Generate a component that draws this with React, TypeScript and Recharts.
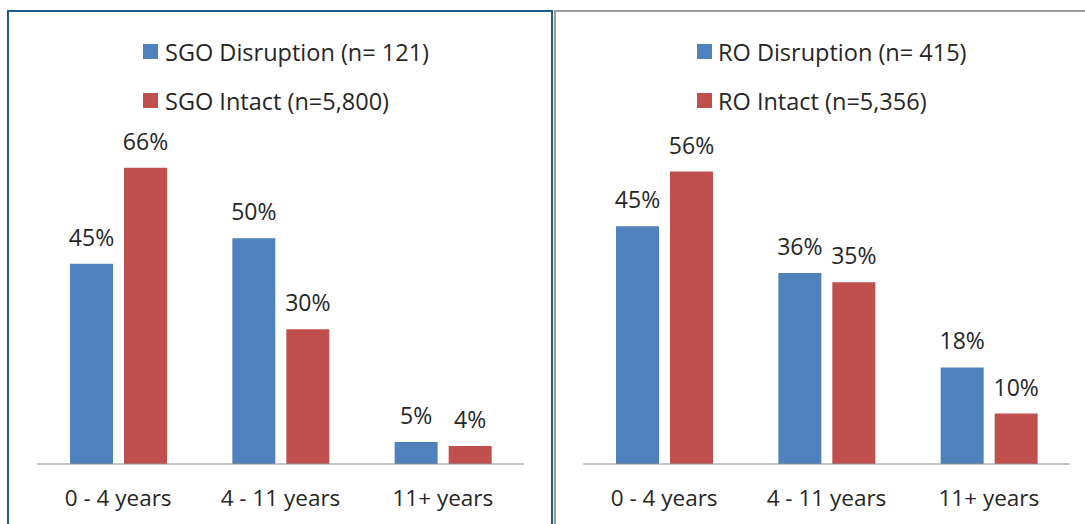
import React from 'react';
import { BarChart, Bar, XAxis, YAxis, LabelList, Legend } from 'recharts';

const categories = ['0 - 4 years', '4 - 11 years', '11+ years'];
const sgoDisruption = [44.7, 50.4, 4.9];
const sgoIntact = [66.1, 30.1, 4.0];
const roDisruption = [45.3, 36.4, 18.4];
const roIntact = [55.7, 34.6, 9.6];
const sgoNames = ['SGO Disruption (n= 121)', 'SGO Intact (n=5,800)'];
const roNames = ['RO Disruption (n= 415)', 'RO Intact (n=5,356)'];

const BLUE = '#4F81BD';
const RED = '#C0504D';
const FONT = '"Open Sans", sans-serif';
const TEXT = '#262626';

const sgoData = categories.map((c, i) => ({ category: c, a: sgoDisruption[i], b: sgoIntact[i] }));
const roData = categories.map((c, i) => ({ category: c, a: roDisruption[i], b: roIntact[i] }));

const W = 1085;
const H = 524;

const Tick = (props: any) => {
  const { x, y, payload } = props;
  return (
    <text x={x} y={y + 42} textAnchor="middle" fontFamily={FONT} fontSize={22.5} fill={TEXT}>
      {payload.value}
    </text>
  );
};

const makeLegend = (textX: number) => (props: any) => {
  const payload = props.payload || [];
  return (
    <svg width={340} height={80} style={{ display: 'block', overflow: 'visible' }}>
      {payload.map((p: any, i: number) => (
        <g key={i}>
          <rect x={0} y={i * 49} width={15} height={15} fill={p.color} />
          <text x={textX} y={i * 49 + 17} fontFamily={FONT} fontSize={23.5} fill={TEXT}>
            {p.value}
          </text>
        </g>
      ))}
    </svg>
  );
};

interface PanelProps {
  data: any[];
  names: string[];
  axisLeft: number;
  axisRight: number;
  top: number;
  yMax: number;
  legendX: number;
  legendTextX: number;
}

const Panel = ({ data, names, axisLeft, axisRight, top, yMax, legendX, legendTextX }: PanelProps) => (
  <div style={{ position: 'absolute', left: 0, top: 0, width: W, height: H }}>
    <BarChart
      width={W}
      height={H}
      data={data}
      margin={{ top, right: W - axisRight, left: axisLeft, bottom: 0 }}
      barSize={43}
      barGap={11}
    >
      <XAxis
        dataKey="category"
        height={60}
        tickLine={false}
        tickSize={0}
        tickMargin={0}
        axisLine={{ stroke: '#8C8C8C', strokeWidth: 1 }}
        tick={<Tick />}
        interval={0}
      />
      <YAxis hide domain={[0, yMax]} />
      <Legend
        layout="vertical"
        align="center"
        verticalAlign="middle"
        content={makeLegend(legendTextX)}
        wrapperStyle={{ position: 'absolute', left: legendX, top: 44, width: 340, height: 80 }}
      />
      <Bar dataKey="a" name={names[0]} fill={BLUE} isAnimationActive={false}>
        <LabelList
          dataKey="a"
          position="top"
          offset={18}
          formatter={(v: any) => `${Math.round(Number(v))}%`}
          style={{ fontFamily: FONT, fontSize: 23, fill: TEXT }}
        />
      </Bar>
      <Bar dataKey="b" name={names[1]} fill={RED} isAnimationActive={false}>
        <LabelList
          dataKey="b"
          position="top"
          offset={18}
          formatter={(v: any) => `${Math.round(Number(v))}%`}
          style={{ fontFamily: FONT, fontSize: 23, fill: TEXT }}
        />
      </Bar>
    </BarChart>
  </div>
);

export default function App() {
  return (
    <div style={{ position: 'absolute', left: 0, top: 0, width: W, height: H, overflow: 'hidden', background: '#fff', fontFamily: FONT }}>
      <div
        style={{
          position: 'absolute', left: 7, top: 10, width: 546, height: 620,
          border: '2px solid #1F5C8A', boxSizing: 'border-box',
        }}
      />
      <div
        style={{
          position: 'absolute', left: 554, top: 10, width: 620, height: 620,
          border: '2px solid #9C9C9C', boxSizing: 'border-box',
        }}
      />
      <Panel data={sgoData} names={sgoNames} axisLeft={37} axisRight={524} top={150.4} yMax={70} legendX={143} legendTextX={22} />
      <Panel data={roData} names={roNames} axisLeft={583} axisRight={1070} top={149} yMax={60} legendX={697} legendTextX={21} />
    </div>
  );
}
